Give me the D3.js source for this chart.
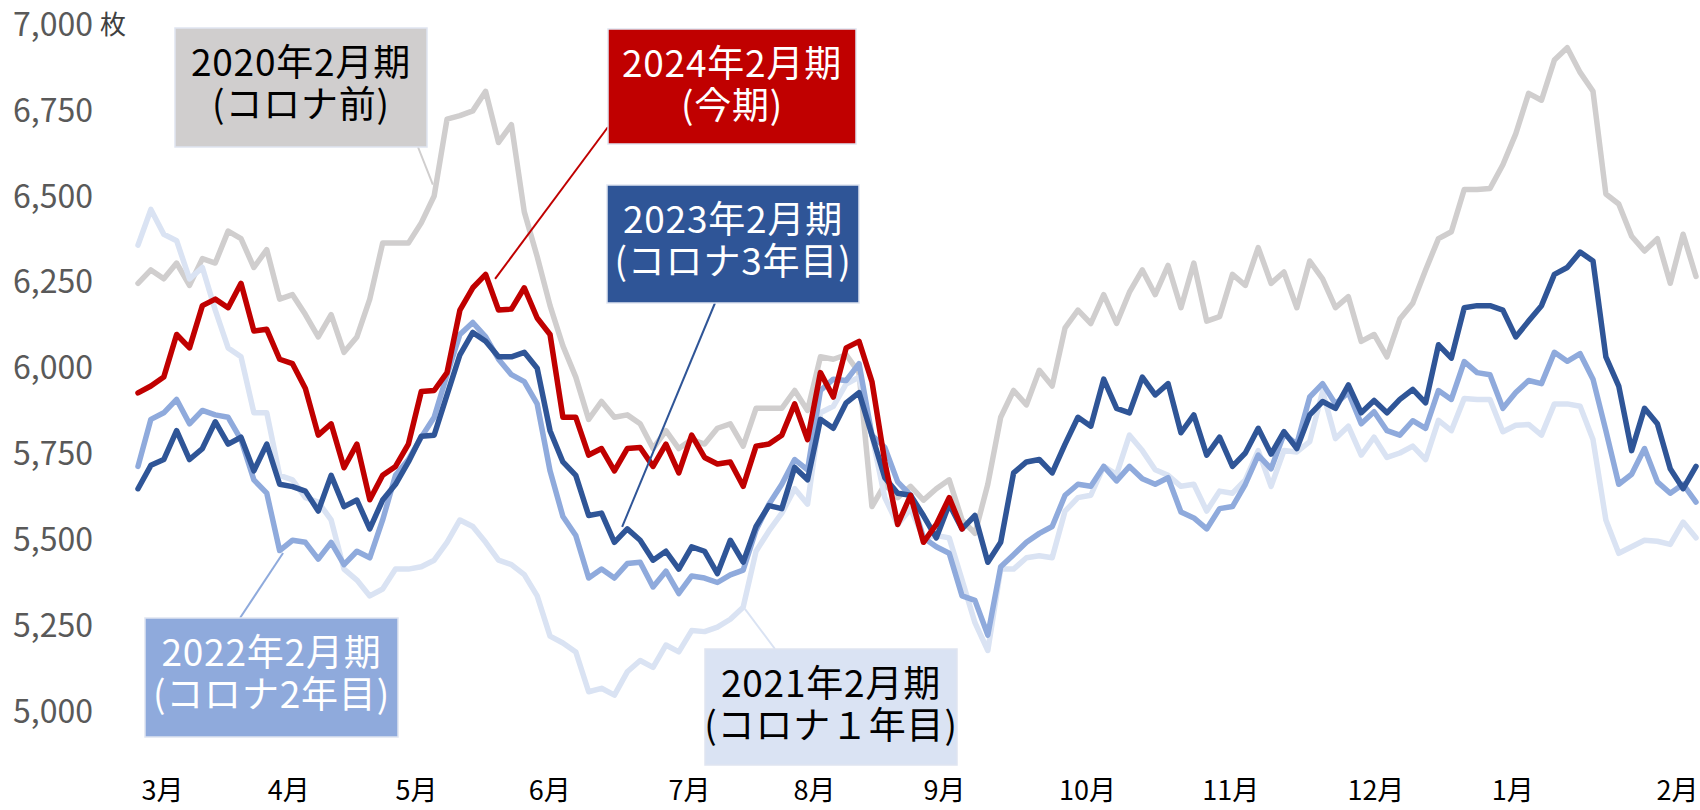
<!DOCTYPE html>
<html lang="ja">
<head>
<meta charset="utf-8">
<script src="https://cdn.jsdelivr.net/npm/d3@7"></script>
<style>
  html, body { margin: 0; padding: 0; background: #fff; }
  svg { display: block; }
</style>
</head>
<body>
<div id="chart"></div>
<script>
// samples every 3 days, from the start of March to the end of February
var dayIndex = d3.range(0, 364, 3);

var monthLabels = ["3月", "4月", "5月", "6月", "7月", "8月", "9月", "10月", "11月", "12月", "1月", "2月"];
var monthTickDays = [5.6, 35, 64.8, 95.8, 128.4, 157.5, 187.8, 221.1, 254.5, 288.3, 320.2, 358.6];
var yTicks = [5000, 5250, 5500, 5750, 6000, 6250, 6500, 6750, 7000];

// 2020年2月期 (コロナ前)
var sales2020 = [
  6248, 6287, 6261, 6307, 6242, 6320, 6307, 6400, 6378, 6294, 6346, 6202, 6215, 6157, 6092, 6157, 6047, 6092, 6202, 6365, 6365,
  6365, 6424, 6502, 6726, 6736, 6750, 6807, 6658, 6710, 6456, 6326, 6183, 6066, 5975, 5852, 5904, 5858, 5865, 5839, 5767, 5819, 5767,
  5793, 5780, 5826, 5839, 5774, 5884, 5884, 5884, 5936, 5878, 6034, 6027, 6040, 5988, 5598, 5663, 5624, 5657, 5617, 5650, 5676, 5559,
  5520, 5663, 5858, 5936, 5894, 5995, 5949, 6118, 6170, 6131, 6215, 6131, 6222, 6287, 6215, 6300, 6177, 6307, 6138, 6151, 6274,
  6242, 6352, 6248, 6281, 6177, 6313, 6261, 6177, 6209, 6079, 6099, 6034, 6144, 6190, 6287, 6378, 6398, 6521, 6521, 6524, 6593, 6683,
  6801, 6781, 6898, 6934, 6862, 6807, 6508, 6479, 6385, 6342, 6378, 6248, 6391, 6268
];
// 2021年2月期 (コロナ1年目)
var sales2021 = [
  6359, 6463, 6391, 6372, 6261, 6294, 6170, 6060, 6034, 5871, 5871, 5689, 5676, 5624, 5611, 5559, 5416, 5384, 5338, 5358, 5416,
  5416, 5423, 5442, 5494, 5559, 5540, 5494, 5442, 5429, 5400, 5338, 5221, 5201, 5175, 5059, 5069, 5049, 5117, 5150, 5130, 5195, 5175,
  5237, 5234, 5247, 5270, 5305, 5468, 5527, 5579, 5650, 5605, 5871, 5890, 5955, 5975, 5806, 5624, 5546, 5592, 5507, 5514, 5507, 5384,
  5260, 5179, 5416, 5416, 5449, 5455, 5449, 5585, 5624, 5631, 5715, 5692, 5806, 5761, 5705, 5689, 5657, 5663, 5585, 5643, 5637,
  5676, 5761, 5657, 5761, 5757, 5787, 5933, 5796, 5832, 5748, 5800, 5741, 5754, 5774, 5735, 5849, 5819, 5913, 5910, 5910, 5816, 5835,
  5837, 5806, 5897, 5897, 5890, 5793, 5559, 5462, 5481, 5500, 5497, 5488, 5553, 5507
];
// 2022年2月期 (コロナ2年目)
var sales2022 = [
  5715, 5852, 5871, 5910, 5839, 5878, 5865, 5858, 5793, 5676, 5637, 5470, 5500, 5494, 5445, 5494, 5429, 5468, 5449, 5559, 5689,
  5735, 5800, 5858, 5982, 6099, 6134, 6092, 6027, 5982, 5962, 5897, 5702, 5569, 5514, 5390, 5416, 5390, 5432, 5436, 5364, 5410, 5345,
  5396, 5390, 5377, 5399, 5413, 5530, 5605, 5663, 5735, 5705, 5936, 5969, 5965, 6014, 5806, 5770, 5670, 5631, 5507, 5481, 5462, 5338,
  5325, 5224, 5423, 5458, 5494, 5520, 5540, 5631, 5663, 5657, 5715, 5673, 5715, 5679, 5663, 5682, 5582, 5565, 5533, 5592, 5598,
  5663, 5748, 5708, 5809, 5780, 5917, 5956, 5897, 5930, 5839, 5874, 5819, 5806, 5848, 5826, 5936, 5910, 6020, 5988, 5982, 5884, 5930,
  5965, 5956, 6047, 6021, 6043, 5969, 5819, 5663, 5692, 5767, 5670, 5637, 5663, 5611
];
// 2023年2月期 (コロナ3年目)
var sales2023 = [
  5650, 5718, 5735, 5819, 5735, 5767, 5845, 5780, 5800, 5702, 5780, 5663, 5656, 5643, 5585, 5689, 5598, 5617, 5533, 5617, 5663,
  5728, 5803, 5806, 5923, 6040, 6105, 6079, 6034, 6034, 6047, 6001, 5819, 5728, 5689, 5572, 5579, 5494, 5533, 5500, 5442, 5468, 5416,
  5481, 5468, 5403, 5500, 5436, 5540, 5601, 5592, 5712, 5676, 5852, 5826, 5900, 5930, 5806, 5682, 5637, 5631, 5572, 5507, 5605, 5533,
  5572, 5436, 5494, 5696, 5728, 5735, 5696, 5780, 5858, 5832, 5969, 5884, 5871, 5975, 5923, 5956, 5813, 5865, 5748, 5800, 5715,
  5754, 5826, 5751, 5816, 5767, 5865, 5904, 5884, 5952, 5871, 5907, 5871, 5910, 5939, 5900, 6069, 6030, 6177, 6183, 6183, 6170, 6092,
  6138, 6183, 6274, 6294, 6339, 6313, 6034, 5949, 5761, 5884, 5839, 5708, 5650, 5715
];
// 2024年2月期 (今期) - only up to the end of August
var sales2024 = [
  5929, 5949, 5975, 6099, 6060, 6183, 6202, 6177, 6248, 6109, 6114, 6027, 6014, 5942, 5806, 5839, 5711, 5780, 5618, 5689, 5715,
  5780, 5933, 5936, 5988, 6170, 6235, 6274, 6170, 6173, 6235, 6147, 6099, 5858, 5858, 5748, 5767, 5702, 5767, 5770, 5715, 5780, 5696,
  5806, 5741, 5722, 5728, 5657, 5774, 5780, 5806, 5897, 5793, 5988, 5917, 6060, 6079, 5962, 5728, 5546, 5631, 5494, 5546, 5624, 5533
];

var width = 1700, height = 810;
var fontJP = '"Noto Sans CJK JP", "Noto Sans", sans-serif';

var svg = d3.select("#chart")
    .append("svg")
    .attr("width", width)
    .attr("height", height);

var x = d3.scaleLinear().domain([0, 363]).range([138, 1696]);
var y = d3.scaleLinear().domain([5000, 7000]).range([712, 25]);

// y axis (labels only)
var yAxis = svg.append("g")
    .attr("transform", "translate(93,0)")
    .call(d3.axisLeft(y).tickValues(yTicks).tickSize(0).tickPadding(0).tickFormat(d3.format(",")));
yAxis.select(".domain").remove();
yAxis.selectAll("text")
    .attr("font-family", fontJP)
    .attr("font-size", 32)
    .attr("fill", "#595959");

svg.append("text")
    .attr("x", 100)
    .attr("y", y(7000))
    .attr("dy", "0.36em")
    .attr("font-family", fontJP)
    .attr("font-size", 26)
    .attr("fill", "#404040")
    .text("枚");

// month labels
var xAxis = svg.append("g")
    .attr("transform", "translate(0,778)")
    .call(d3.axisBottom(x).tickValues(monthTickDays).tickSize(0).tickFormat((d, i) => monthLabels[i]));
xAxis.select(".domain").remove();
xAxis.selectAll("text")
    .attr("dy", null)
    .attr("y", 22)
    .attr("font-family", fontJP)
    .attr("font-size", 27)
    .attr("fill", "#000");

// lines, back to front
var series = [
    {values: sales2020, color: "#d0cece"},
    {values: sales2021, color: "#dae3f3"},
    {values: sales2022, color: "#8faadc"},
    {values: sales2023, color: "#2f5597"},
    {values: sales2024, color: "#c00000"}
];

var line = d3.line()
    .x((d, i) => x(dayIndex[i]))
    .y(d => y(d));

svg.selectAll(".series")
    .data(series)
    .enter()
    .append("path")
    .attr("class", "series")
    .attr("d", d => line(d.values))
    .attr("fill", "none")
    .attr("stroke", d => d.color)
    .attr("stroke-width", 5.5)
    .attr("stroke-linejoin", "round")
    .attr("stroke-linecap", "round");

// callouts
var callouts = [
    {lines: ["2020年2月期", "(コロナ前)"], fill: "#d0cece", text: "#000", line: "#d0cece",
     box: [175, 28, 252, 119], from: [418, 147], to: {day: 68.7, value: 6535}},
    {lines: ["2024年2月期", "(今期)"], fill: "#c00000", text: "#fff", line: "#c00000",
     box: [608, 29, 248, 115], from: [608, 127], to: {day: 83.2, value: 6261}},
    {lines: ["2023年2月期", "(コロナ3年目)"], fill: "#2f5597", text: "#fff", line: "#2f5597",
     box: [607, 185, 252, 118], from: [715, 303], to: {day: 112.8, value: 5539}},
    {lines: ["2022年2月期", "(コロナ2年目)"], fill: "#8faadc", text: "#fff", line: "#8faadc",
     box: [145, 618, 253, 119], from: [240, 618], to: {day: 33.8, value: 5463}},
    {lines: ["2021年2月期", "(コロナ１年目)"], fill: "#dae3f3", text: "#000", line: "#dae3f3",
     box: [705, 649, 252, 116], from: [775, 649], to: {day: 141.4, value: 5300}}
];

svg.selectAll(".leader")
    .data(callouts)
    .enter()
    .append("line")
    .attr("class", "leader")
    .attr("x1", d => d.from[0])
    .attr("y1", d => d.from[1])
    .attr("x2", d => x(d.to.day))
    .attr("y2", d => y(d.to.value))
    .attr("stroke", d => d.line)
    .attr("stroke-width", 2);

var boxes = svg.selectAll(".callout")
    .data(callouts)
    .enter()
    .append("g")
    .attr("class", "callout");

boxes.append("rect")
    .attr("x", d => d.box[0])
    .attr("y", d => d.box[1])
    .attr("width", d => d.box[2])
    .attr("height", d => d.box[3])
    .attr("fill", d => d.fill)
    .attr("stroke", "#dfe5f1")
    .attr("stroke-width", 1.5);

// two-line label in one text element
boxes.append("text")
    .attr("text-anchor", "middle")
    .attr("font-family", fontJP)
    .attr("font-size", 37)
    .attr("letter-spacing", 0.8)
    .attr("fill", d => d.text)
    .each(function(d) {
        var t = d3.select(this);
        d.lines.forEach(function(s, i) {
            t.append("tspan")
                .attr("x", d.box[0] + d.box[2] / 2)
                .attr("y", d.box[1] + 48 + i * 42)
                .text(s);
        });
    });
</script>
</body>
</html>
